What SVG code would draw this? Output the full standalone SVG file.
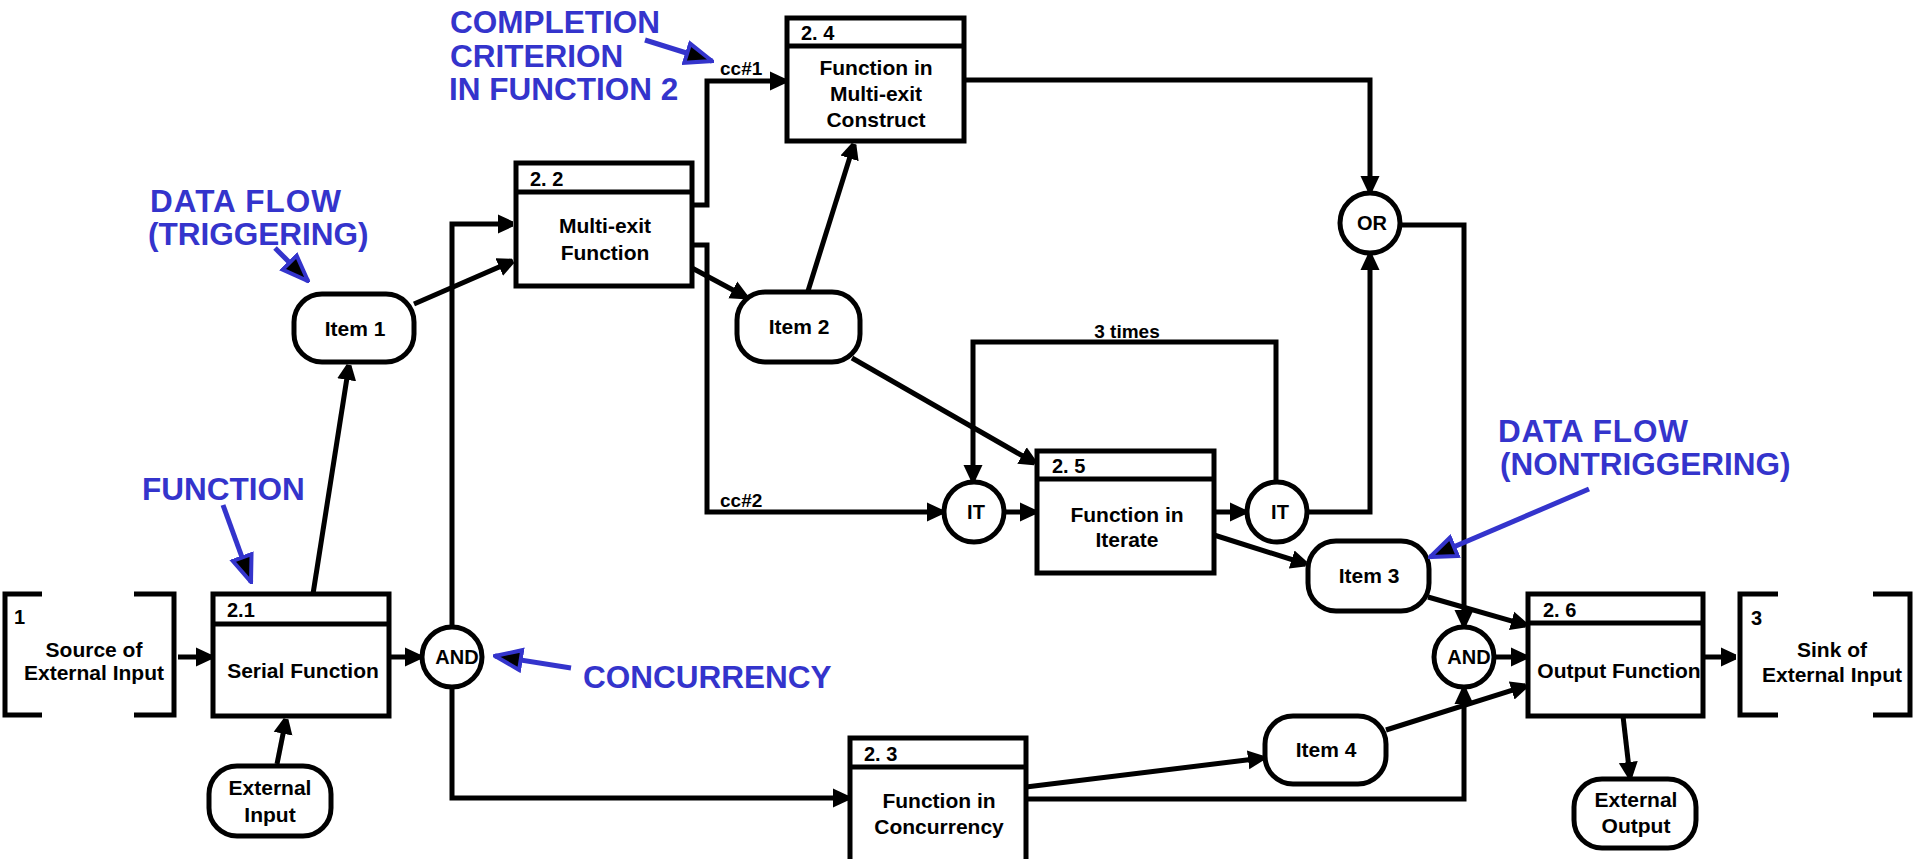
<svg xmlns="http://www.w3.org/2000/svg" width="1915" height="859" viewBox="0 0 1915 859">
  <defs>
    <style>
      .box{fill:#fff;stroke:#000;stroke-width:5}
      .hdr{fill:none;stroke:#000;stroke-width:5}
      .item{fill:#fff;stroke:#000;stroke-width:5}
      .gate{fill:#fff;stroke:#000;stroke-width:5}
      .br{fill:none;stroke:#000;stroke-width:5}
      .t{font-family:"Liberation Sans",Arial,sans-serif;font-weight:bold;font-size:21px;fill:#000;text-anchor:middle}
      .num{font-family:"Liberation Sans",Arial,sans-serif;font-weight:bold;font-size:20px;fill:#000}
      .lbl{font-family:"Liberation Sans",Arial,sans-serif;font-weight:bold;font-size:19px;fill:#000}
      .c{fill:none;stroke:#000;stroke-width:5;stroke-linejoin:miter;marker-end:url(#ah)}
      .note{font-family:"Liberation Sans",Arial,sans-serif;font-weight:bold;font-size:31.5px;fill:#3434CC}
      .na{fill:none;stroke:#3434CC;stroke-width:5;marker-end:url(#bh)}
    </style>
    <marker id="ah" viewBox="0 0 16 20" refX="15" refY="10" markerWidth="16" markerHeight="20" markerUnits="userSpaceOnUse" orient="auto">
      <path d="M0,0.5 L15,7.5 L15,12.5 L0,19.5 Z" fill="#000"/>
    </marker>
    <marker id="bh" viewBox="0 0 30 26" refX="28" refY="13" markerWidth="30" markerHeight="26" markerUnits="userSpaceOnUse" orient="auto">
      <path d="M2,3 L28,13 L2,23 Z" fill="#000" stroke="#3434CC" stroke-width="4"/>
    </marker>
  </defs>
  <rect width="1915" height="859" fill="#fff"/>

  <!-- external source and sink -->
  <g id="source1">
    <path class="br" d="M42,594 H5 V715 H42 M134,594 H174 V715 H134"/>
    <text class="num" x="14" y="624">1</text>
    <text class="t" x="94" y="657">Source of</text>
    <text class="t" x="94" y="680">External Input</text>
  </g>
  <g id="sink3">
    <path class="br" d="M1778,594 H1740 V715 H1778 M1873,594 H1910 V715 H1873"/>
    <text class="num" x="1751" y="625">3</text>
    <text class="t" x="1832" y="657">Sink of</text>
    <text class="t" x="1832" y="682">External Input</text>
  </g>

  <!-- functions -->
  <g id="f2_1">
    <rect class="box" x="213" y="594" width="176" height="122"/>
    <line class="hdr" x1="213" y1="624" x2="389" y2="624"/>
    <text class="num" x="227" y="617">2.1</text>
    <text class="t" x="303" y="678">Serial Function</text>
  </g>
  <g id="f2_2">
    <rect class="box" x="516" y="163" width="176" height="123"/>
    <line class="hdr" x1="516" y1="192" x2="692" y2="192"/>
    <text class="num" x="530" y="186">2. 2</text>
    <text class="t" x="605" y="233">Multi-exit</text>
    <text class="t" x="605" y="260">Function</text>
  </g>
  <g id="f2_3">
    <rect class="box" x="850" y="738" width="176" height="130"/>
    <line class="hdr" x1="850" y1="767" x2="1026" y2="767"/>
    <text class="num" x="864" y="761">2. 3</text>
    <text class="t" x="939" y="808">Function in</text>
    <text class="t" x="939" y="834">Concurrency</text>
  </g>
  <g id="f2_4">
    <rect class="box" x="787" y="18" width="177" height="123"/>
    <line class="hdr" x1="787" y1="46" x2="964" y2="46"/>
    <text class="num" x="801" y="40">2. 4</text>
    <text class="t" x="876" y="75">Function in</text>
    <text class="t" x="876" y="101">Multi-exit</text>
    <text class="t" x="876" y="127">Construct</text>
  </g>
  <g id="f2_5">
    <rect class="box" x="1037" y="451" width="177" height="122"/>
    <line class="hdr" x1="1037" y1="479" x2="1214" y2="479"/>
    <text class="num" x="1052" y="473">2. 5</text>
    <text class="t" x="1127" y="522">Function in</text>
    <text class="t" x="1127" y="547">Iterate</text>
  </g>
  <g id="f2_6">
    <rect class="box" x="1528" y="594" width="175" height="122"/>
    <line class="hdr" x1="1528" y1="623" x2="1703" y2="623"/>
    <text class="num" x="1543" y="617">2. 6</text>
    <text class="t" x="1619" y="678">Output Function</text>
  </g>

  <!-- items -->
  <g id="extInput">
    <rect class="item" x="209" y="766" width="122" height="70" rx="28"/>
    <text class="t" x="270" y="795">External</text>
    <text class="t" x="270" y="822">Input</text>
  </g>
  <g id="item1">
    <rect class="item" x="294" y="294" width="120" height="68" rx="28"/>
    <text class="t" x="355" y="336">Item 1</text>
  </g>
  <g id="item2">
    <rect class="item" x="737" y="292" width="123" height="70" rx="28"/>
    <text class="t" x="799" y="334">Item 2</text>
  </g>
  <g id="item3">
    <rect class="item" x="1308" y="541" width="121" height="70" rx="28"/>
    <text class="t" x="1369" y="583">Item 3</text>
  </g>
  <g id="item4">
    <rect class="item" x="1265" y="716" width="121" height="68" rx="28"/>
    <text class="t" x="1326" y="757">Item 4</text>
  </g>
  <g id="extOutput">
    <rect class="item" x="1574" y="779" width="122" height="69" rx="28"/>
    <text class="t" x="1636" y="807">External</text>
    <text class="t" x="1636" y="833">Output</text>
  </g>

  <!-- control constructs -->
  <g id="and1">
    <circle class="gate" cx="452" cy="657" r="30"/>
    <text class="t" x="457" y="664" style="font-size:20px">AND</text>
  </g>
  <g id="or1">
    <circle class="gate" cx="1370" cy="223" r="30"/>
    <text class="t" x="1372" y="230" style="font-size:20px">OR</text>
  </g>
  <g id="itL">
    <circle class="gate" cx="974" cy="512" r="30"/>
    <text class="t" x="976" y="519" style="font-size:20px">IT</text>
  </g>
  <g id="itR">
    <circle class="gate" cx="1277" cy="512" r="30"/>
    <text class="t" x="1280" y="519" style="font-size:20px">IT</text>
  </g>
  <g id="and2">
    <circle class="gate" cx="1464" cy="657" r="30"/>
    <text class="t" x="1469" y="664" style="font-size:20px">AND</text>
  </g>

  <!-- connectors -->
  <g id="connectors">
    <path class="c" d="M178,657 H211"/>
    <path class="c" d="M277,764 L286,719"/>
    <path class="c" d="M313,594 L349,365"/>
    <path class="c" d="M414,304 L513,261"/>
    <path class="c" d="M390,657 H420"/>
    <path class="c" d="M452,627 V224 H513"/>
    <path class="c" d="M452,687 V798 H848"/>
    <path class="c" d="M692,205 H707 V81 H785"/>
    <path class="c" d="M692,245 H707 V512 H942"/>
    <path class="c" d="M692,268 L746,297"/>
    <path class="c" d="M808,291 L854,144"/>
    <path class="c" d="M852,358 L1035,463"/>
    <path class="c" d="M964,80 H1370 V191"/>
    <path class="c" d="M1004,512 H1035"/>
    <path class="c" d="M1214,512 H1245"/>
    <path class="c" d="M1276,482 V342 H973 V480"/>
    <path class="c" d="M1307,512 H1370 V255"/>
    <path class="c" d="M1214,535 L1306,564"/>
    <path class="c" d="M1400,225 H1464 V625"/>
    <path class="c" d="M1026,799 H1464 V689"/>
    <path class="c" d="M1026,787 L1263,758"/>
    <path class="c" d="M1428,597 L1526,625"/>
    <path class="c" d="M1494,657 H1526"/>
    <path class="c" d="M1386,730 L1526,686"/>
    <path class="c" d="M1703,657 H1736"/>
    <path class="c" d="M1623,716 L1630,777"/>
    <text class="lbl" x="720" y="75">cc#1</text>
    <text class="lbl" x="720" y="507">cc#2</text>
    <text class="lbl" x="1127" y="338" text-anchor="middle">3 times</text>
  </g>

  <!-- annotations -->
  <g id="notes">
    <text class="note" x="450" y="33">COMPLETION</text>
    <text class="note" x="450" y="67">CRITERION</text>
    <text class="note" x="449" y="100">IN FUNCTION 2</text>
    <path class="na" d="M645,40 L712,61"/>
    <text class="note" x="150" y="212" textLength="191" lengthAdjust="spacing">DATA FLOW</text>
    <text class="note" x="148" y="245">(TRIGGERING)</text>
    <path class="na" d="M275,248 L308,281"/>
    <text class="note" x="142" y="500">FUNCTION</text>
    <path class="na" d="M223,505 L251,582"/>
    <text class="note" x="583" y="688">CONCURRENCY</text>
    <path class="na" d="M571,668 L495,656"/>
    <text class="note" x="1498" y="442" textLength="190" lengthAdjust="spacing">DATA FLOW</text>
    <text class="note" x="1500" y="475">(NONTRIGGERING)</text>
    <path class="na" d="M1589,489 L1430,557"/>
  </g>
</svg>
